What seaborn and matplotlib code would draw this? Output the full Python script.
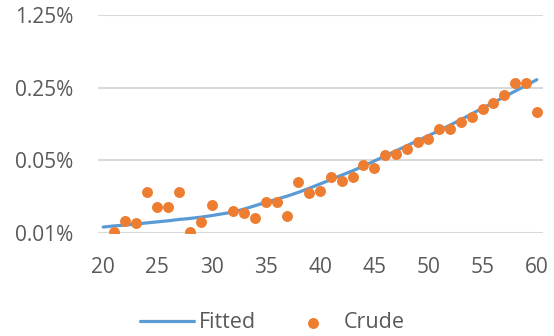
import matplotlib
matplotlib.use("Agg")
import matplotlib.pyplot as plt
from matplotlib.ticker import FixedLocator, FuncFormatter, NullLocator
import seaborn as sns
import pandas as pd

# Age axis and rates (in percent)
fitted_age = list(range(20, 61))
fitted_rate = [0.0114, 0.0117, 0.0119, 0.0122, 0.0125, 0.0128, 0.0131, 0.0135,
               0.0138, 0.0142, 0.0147, 0.0153, 0.0159, 0.0170, 0.0183, 0.0197,
               0.0211, 0.0227, 0.0246, 0.0269, 0.0296, 0.0326, 0.0360, 0.0396,
               0.0440, 0.0492, 0.0551, 0.0616, 0.0690, 0.0772, 0.0864, 0.0967,
               0.1091, 0.1231, 0.1400, 0.1588, 0.1800, 0.2041, 0.2314, 0.2623,
               0.2984]

crude_age = [21, 22, 23, 24, 25, 26, 27, 28, 29, 30, 32, 33, 34, 35, 36, 37,
             38, 39, 40, 41, 42, 43, 44, 45, 46, 47, 48, 49, 50, 51, 52, 53,
             54, 55, 56, 57, 58, 59, 60]
crude_rate = [0.0103, 0.0131, 0.0124, 0.0249, 0.0179, 0.0179, 0.0249, 0.0103,
              0.0128, 0.0186, 0.0164, 0.0157, 0.0138, 0.0200, 0.0200, 0.0147,
              0.0311, 0.0244, 0.0255, 0.0348, 0.0316, 0.0343, 0.0450, 0.0419,
              0.0562, 0.0575, 0.0642, 0.0745, 0.0800, 0.0990, 0.0990, 0.1175,
              0.1310, 0.1550, 0.1790, 0.2120, 0.2750, 0.2750, 0.1470]

y_ticks = [0.01, 0.05, 0.25, 1.25]
x_ticks = [20, 25, 30, 35, 40, 45, 50, 55, 60]

fitted_df = pd.DataFrame({"age": fitted_age, "rate": fitted_rate})
crude_df = pd.DataFrame({"age": crude_age, "rate": crude_rate})

sns.set_theme(style="white")
plt.rcParams["font.family"] = ["Open Sans", "DejaVu Sans"]
plt.rcParams["ytick.major.pad"] = 18
plt.rcParams["xtick.major.pad"] = 18

BLUE = "#5B9BD5"
ORANGE = "#ED7D31"
TEXT = "#595959"
GRID = "#D9D9D9"

fig = plt.figure(figsize=(5.54, 3.36), dpi=100)
ax = fig.add_axes([98 / 554, 1 - 233 / 336, 445 / 554, 218 / 336])

sns.lineplot(data=fitted_df, x="age", y="rate", ax=ax, color=BLUE,
             linewidth=2.3, label="Fitted")
sns.scatterplot(data=crude_df, x="age", y="rate", ax=ax, color=ORANGE,
                s=62, linewidth=0, label="Crude", zorder=3)

ax.set_yscale("log")
ax.set_ylim(0.01, 1.25)
ax.set_xlim(19.52, 60.57)
ax.yaxis.set_major_locator(FixedLocator(y_ticks))
ax.yaxis.set_minor_locator(NullLocator())
ax.yaxis.set_major_formatter(FuncFormatter(lambda v, p: f"{v:.2f}%"))
ax.xaxis.set_major_locator(FixedLocator(x_ticks))

ax.set_xlabel("")
ax.set_ylabel("")
for s in ax.spines.values():
    s.set_visible(False)
ax.grid(False)
for yv in y_ticks:
    ax.axhline(yv, color=GRID, linewidth=1.5, zorder=0)

ax.tick_params(axis="both", length=0, labelsize=15, labelcolor=TEXT)
ax.tick_params(axis="y", pad=18)
ax.tick_params(axis="x", pad=17)
for t in ax.yaxis.get_major_ticks():
    t.set_pad(18)

handles, labels = ax.get_legend_handles_labels()
ax.legend_.remove()
fig.legend(handles, labels, loc="center", bbox_to_anchor=(0.492, 0.039),
           ncol=2, frameon=False, fontsize=15.5, handlelength=2.5,
           handletextpad=0.2, columnspacing=1.4, labelcolor=TEXT,
           borderaxespad=0)

fig.savefig("out.png", dpi=100)
